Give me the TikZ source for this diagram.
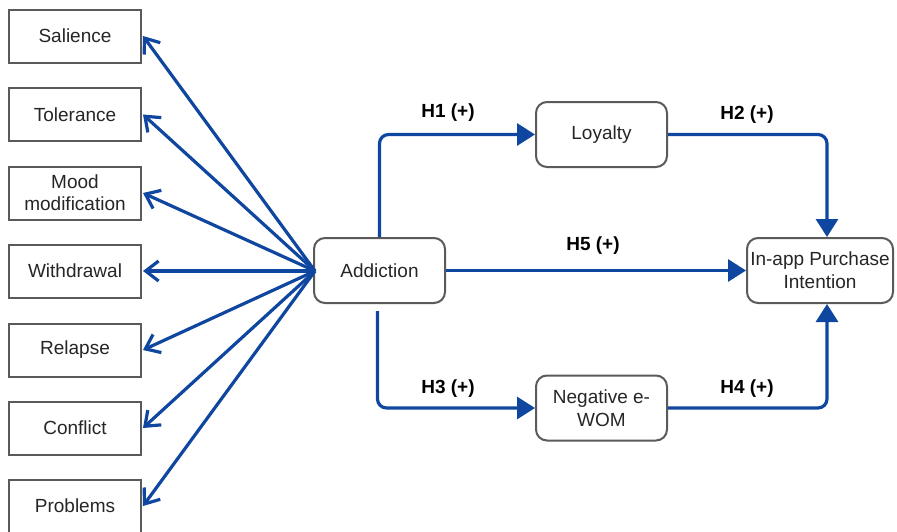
\documentclass[tikz,border=0pt]{standalone}
\usepackage{fontspec}
\setmainfont{Liberation Sans}
\usetikzlibrary{arrows.meta}
\definecolor{lineblue}{HTML}{0F47A0}
\definecolor{boxgray}{HTML}{5A5A5A}
\definecolor{txt}{HTML}{262626}
\tikzset{
  dim/.style={draw=boxgray, line width=2pt, fill=white, minimum width=132pt, minimum height=53pt,
    font=\fontsize{19pt}{22pt}\selectfont, text=txt, align=center, inner sep=1pt},
  construct/.style={draw=boxgray, line width=2pt, fill=white, rounded corners=11pt,
    minimum width=131pt, minimum height=65pt, font=\fontsize{19pt}{23pt}\selectfont,
    text=txt, align=center, inner sep=1pt},
  hyp/.style={font=\bfseries\fontsize{19pt}{22pt}\selectfont, text=black},
  openarr/.style={draw=lineblue, line width=3.2pt, -{Straight Barb[length=13pt,width=20pt,line width=3.2pt]}},
  conn/.style={draw=lineblue, line width=3.2pt, rounded corners=9pt, -{Triangle[length=18pt,width=22pt]}}
}
\begin{document}
\begin{tikzpicture}[x=1pt,y=-1pt]
\useasboundingbox (0,0) rectangle (897,531);
% left dimension boxes
\node[dim] (sal) at (75,36) {Salience};
\node[dim] (tol) at (75,114.5) {Tolerance};
\node[dim] (mood) at (75,193) {Mood\\modification};
\node[dim] (wd) at (75,271) {Withdrawal};
\node[dim] (rel) at (75,350) {Relapse};
\node[dim] (con) at (75,428) {Conflict};
\node[dim] (prob) at (75,506) {Problems};
% constructs
\node[construct] (add) at (379.5,270.5) {Addiction};
\node[construct] (loy) at (601.5,134.5) {Loyalty};
\node[construct] (neg) at (601.5,408) {Negative e-\\WOM};
\node[construct, minimum width=146pt] (ipi) at (820,270.5) {In-app Purchase\\Intention};
% arrows to dimensions
\coordinate (hub) at (315,271);
\foreach \n in {sal,tol,mood,wd,rel,con,prob}{
  \draw[openarr] (hub) -- ([xshift=1pt]\n.east);
}
% structural paths
\draw[conn] (add.north) |- (loy.west);
\draw[conn] ([shift={(-2pt,-7pt)}]add.south) |- (neg.west);
\draw[conn] (add.east) -- (ipi.west);
\draw[conn] (loy.east) -| ([xshift=7pt]ipi.north);
\draw[conn] (neg.east) -| ([xshift=7pt]ipi.south);
% labels
\node[hyp] (h1) at (448,113) {H1 (+)};
\node[hyp] (h2) at (747,115) {H2 (+)};
\node[hyp] (h5) at (593,246) {H5 (+)};
\node[hyp] (h3) at (448,389) {H3 (+)};
\node[hyp] (h4) at (747,389) {H4 (+)};
\end{tikzpicture}
\end{document}
